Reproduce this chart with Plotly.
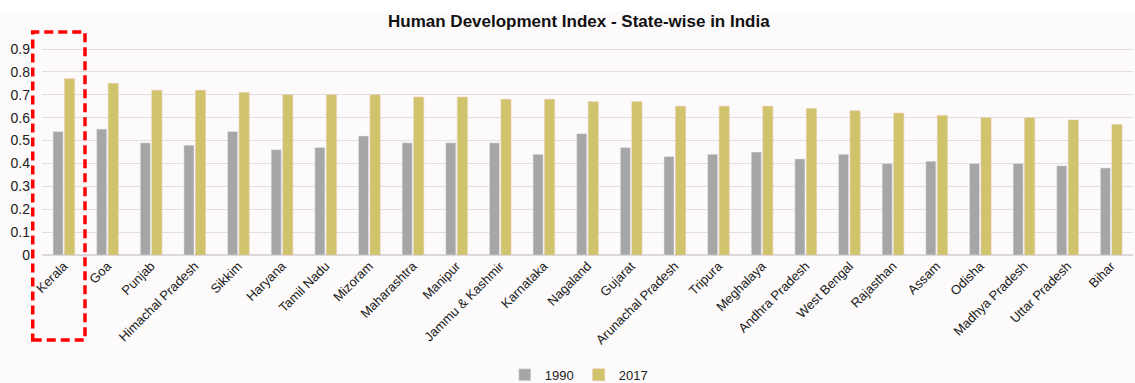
import plotly.graph_objects as go

states = ["Kerala", "Goa", "Punjab", "Himachal Pradesh", "Sikkim", "Haryana", "Tamil Nadu",
          "Mizoram", "Maharashtra", "Manipur", "Jammu & Kashmir", "Karnataka", "Nagaland",
          "Gujarat", "Arunachal Pradesh", "Tripura", "Meghalaya", "Andhra Pradesh",
          "West Bengal", "Rajasthan", "Assam", "Odisha", "Madhya Pradesh", "Uttar Pradesh", "Bihar"]
hdi_1990 = [0.54, 0.55, 0.49, 0.48, 0.54, 0.46, 0.47, 0.52, 0.49, 0.49, 0.49, 0.44, 0.53,
            0.47, 0.43, 0.44, 0.45, 0.42, 0.44, 0.40, 0.41, 0.40, 0.40, 0.39, 0.38]
hdi_2017 = [0.77, 0.75, 0.72, 0.72, 0.71, 0.70, 0.70, 0.70, 0.69, 0.69, 0.68, 0.68, 0.67,
            0.67, 0.65, 0.65, 0.65, 0.64, 0.63, 0.62, 0.61, 0.60, 0.60, 0.59, 0.57]
y_ticks = [0, 0.1, 0.2, 0.3, 0.4, 0.5, 0.6, 0.7, 0.8, 0.9]

fig = go.Figure()
fig.add_trace(go.Bar(name="1990", x=states, y=hdi_1990, marker_color="#a6a6a6"))
fig.add_trace(go.Bar(name="2017", x=states, y=hdi_2017, marker_color="#cfc46c",
                     marker_line=dict(color="#e8c8a8", width=0.6)))

font = "Liberation Sans, Arial, sans-serif"
fig.update_layout(
    width=1135, height=383,
    margin=dict(l=42, r=2, t=33, b=128, autoexpand=False),
    paper_bgcolor="#fdfafb", plot_bgcolor="#fdfafb",
    barmode="group", bargap=0.47, bargroupgap=0.13,
    title=dict(text="<b>Human Development Index - State-wise in India</b>",
               x=0.51, xanchor="center", y=0.945, yanchor="middle",
               font=dict(family=font, size=17, color="#111111")),
    font=dict(family=font, color="#222222"),
    showlegend=True,
    legend=dict(orientation="h", x=0.492, xanchor="center", y=-0.54, yanchor="middle",
                font=dict(size=13, color="#222222"), bgcolor="rgba(0,0,0,0)",
                itemwidth=30, traceorder="normal"),
    xaxis=dict(tickangle=-45, tickfont=dict(size=13, color="#1a1a1a"),
               showgrid=False, showline=False, ticks="", automargin=False),
    yaxis=dict(range=[0, 0.97], tickvals=y_ticks, ticktext=[f"{v:g}" for v in y_ticks],
               tickfont=dict(size=14, color="#222222"), gridcolor="#e2dedf", gridwidth=1,
               zeroline=True, zerolinecolor="#dcd8d9", zerolinewidth=1.5, showline=False,
               ticks="", ticklabelstandoff=11, automargin=False),
    shapes=[
        dict(type="rect", xref="paper", yref="paper", x0=-0.045, x1=1.01, y0=1.1, y1=1.2,
             fillcolor="#ffffff", line=dict(width=0), layer="below"),
        dict(type="rect", xref="paper", yref="paper", x0=-0.0085, x1=0.0394, y0=-0.383, y1=1.0045,
             line=dict(color="#ff0000", width=3.5, dash="9px,5px"), fillcolor="rgba(0,0,0,0)"),
    ],
)

fig.write_html("out.html")
